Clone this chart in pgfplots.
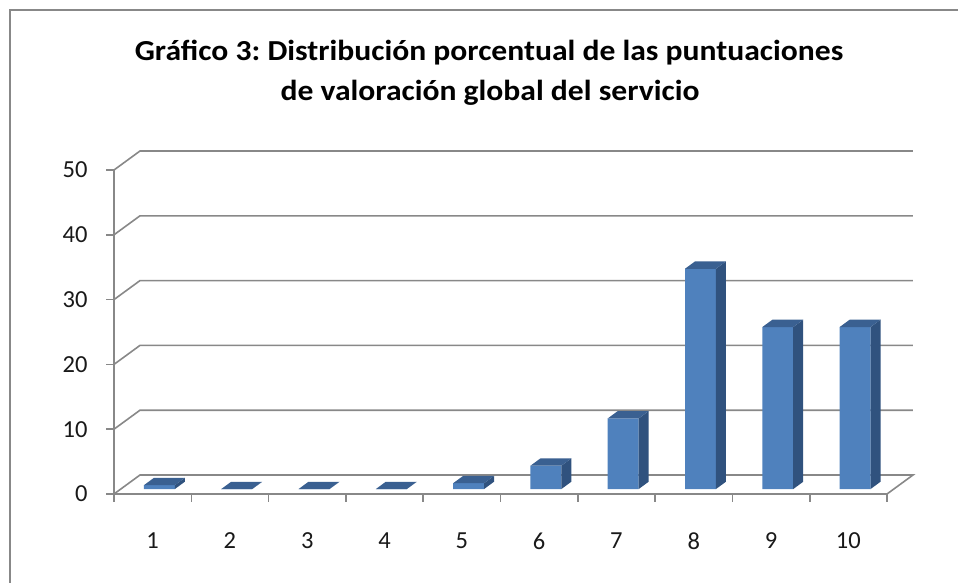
\documentclass[border=0pt]{standalone}
\usepackage{pgfplots}
\usepackage{pgfplotstable}
\pgfplotsset{compat=1.18}
\usepackage{fontspec}
\setmainfont{Carlito}
\newfontfamily\titlefont{Carlito}[FakeStretch=1.09]
\frenchspacing
\definecolor{gridc}{RGB}{136,136,136}
\definecolor{barfront}{RGB}{79,129,189}
\definecolor{barside}{RGB}{48,82,126}
\definecolor{bartop}{RGB}{58,96,145}

\pgfplotstableread{
k v
1 0.6
2 0
3 0
4 0
5 0.9
6 3.6
7 10.9
8 34.0
9 25.0
10 25.0
}\datatable

\begin{document}
\begin{tikzpicture}
\path[use as bounding box] (0,0) rectangle (958pt,583pt);
\draw[gridc, line width=2pt] (9.5pt,0) -- (9.5pt,573pt) -- (958pt,573pt);
\node[anchor=base, font=\titlefont\fontsize{29}{32}\selectfont\bfseries] at (489pt,522.3pt) {Gráfico 3: Distribución porcentual de las puntuaciones};
\node[anchor=base, font=\titlefont\fontsize{29}{32}\selectfont\bfseries] at (490pt,482.3pt) {de valoración global del servicio};
\begin{axis}[
  at={(114pt,89pt)}, anchor=south west,
  x=77.3pt, y=6.48pt,
  xmin=0.5, xmax=10.85, ymin=0, ymax=53,
  clip=false,
  axis line style={draw=none},
  /pgf/number format/assume math mode=true,
  ticklabel style={font=\fontsize{24.5}{28}\selectfont, text=black!90},
  ytick={0,10,...,50}, ytick pos=left,
  xtick={0.5,1.5,...,10.5}, xtick pos=bottom,
  x tick label as interval,
  xticklabels={1,2,3,4,5,6,7,8,9,10},
  tick align=outside,
  major tick length=8pt,
  tick style={gridc, line width=1.6pt},
  yticklabel style={xshift=-15pt},
  xticklabel style={yshift=-27pt},
]
% floor
\addplot[gridc, line width=1.6pt, forget plot] coordinates {(0.5,0) (0.836,2.93) (10.836,2.93) (10.5,0) (0.5,0)};
% wall grid lines
\addplot[gridc, line width=1.6pt, forget plot] coordinates {(0.5,10) (0.836,12.93) (10.836,12.93)};
\addplot[gridc, line width=1.6pt, forget plot] coordinates {(0.5,20) (0.836,22.93) (10.836,22.93)};
\addplot[gridc, line width=1.6pt, forget plot] coordinates {(0.5,30) (0.836,32.93) (10.836,32.93)};
\addplot[gridc, line width=1.6pt, forget plot] coordinates {(0.5,40) (0.836,42.93) (10.836,42.93)};
\addplot[gridc, line width=1.6pt, forget plot] coordinates {(0.5,50) (0.836,52.93) (10.836,52.93)};
% front vertical axis
\addplot[gridc, line width=1.6pt, forget plot] coordinates {(0.5,0) (0.5,50)};
% bars
\pgfplotsforeachungrouped \i in {0,...,9}{%
  \pgfplotstablegetelem{\i}{k}\of\datatable \let\kk\pgfplotsretval
  \pgfplotstablegetelem{\i}{v}\of\datatable \let\vv\pgfplotsretval
  \pgfmathsetmacro\xa{\kk-0.113}%
  \pgfmathsetmacro\xb{\kk+0.287}%
  \pgfmathsetmacro\xc{\kk+0.416}%
  \pgfmathsetmacro\xd{\kk+0.016}%
  \pgfmathsetmacro\yb{\vv+0.76}%
  \pgfmathsetmacro\yc{\vv+1.89}%
  \edef\temp{%
    \noexpand\addplot[draw=none, fill=barfront, forget plot] coordinates {(\xa,0.76) (\xb,0.76) (\xb,\yb) (\xa,\yb) (\xa,0.76)};
    \noexpand\addplot[draw=none, fill=barside, forget plot] coordinates {(\xb,0.76) (\xc,1.89) (\xc,\yc) (\xb,\yb) (\xb,0.76)};
    \noexpand\addplot[draw=none, fill=bartop, forget plot] coordinates {(\xa,\yb) (\xb,\yb) (\xc,\yc) (\xd,\yc) (\xa,\yb)};
  }\temp
}
\end{axis}
\end{tikzpicture}
\end{document}
